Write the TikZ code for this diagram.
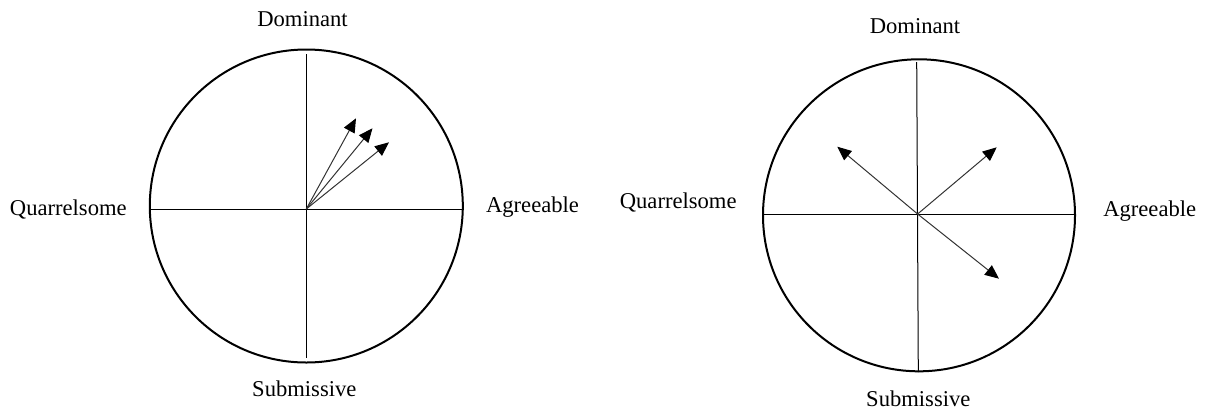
\documentclass[tikz,border=0pt]{standalone}
\usepackage{fontspec}
\setmainfont{Liberation Serif}
\usetikzlibrary{arrows.meta}
\tikzset{
  ring/.style={draw=black, line width=2pt, circle, inner sep=0pt, minimum size=#1},
  axis/.style={draw=black, line width=1pt},
  vec/.style={draw=black!80, line width=1pt, -{Triangle[length=14pt,width=12pt,color=black]}},
  lbl/.style={anchor=base, inner sep=0pt, font=\fontsize{22.6}{27}\selectfont}
}
\begin{document}
\begin{tikzpicture}[x=1pt, y=-1pt]
\useasboundingbox (0,0) rectangle (1206,413);

% ---- left circumplex ----
\node[ring=313pt] (c1) at (306.3,206) {};
\coordinate (o1) at (306.3,209);
\coordinate (n1) at (306.3,54);
\coordinate (s1) at (306.3,358);
\coordinate (w1) at (150.7,209);
\coordinate (e1) at (463,209);
\draw[axis] (n1) -- (s1);
\draw[axis] (w1) -- (e1);
\coordinate (a1) at (356,118.3);
\coordinate (a2) at (372.5,128.3);
\coordinate (a3) at (389,142.3);
\draw[vec] (o1) -- (a1);
\draw[vec] (o1) -- (a2);
\draw[vec] (o1) -- (a3);
\node[lbl] (dom1) at (302.5,26.5) {Dominant};
\node[lbl] (sub1) at (304.3,396.7) {Submissive};
\node[lbl] (qua1) at (68.3,215) {Quarrelsome};
\node[lbl] (agr1) at (532.5,212.7) {Agreeable};

% ---- right circumplex ----
\node[ring=312pt] (c2) at (919,215.3) {};
\coordinate (o2) at (917.6,214);
\coordinate (n2) at (916.7,62);
\coordinate (s2) at (918.3,372);
\coordinate (w2) at (763.5,214);
\coordinate (e2) at (1075,214);
\draw[axis] (n2) -- (s2);
\draw[axis] (w2) -- (e2);
\coordinate (b1) at (837.3,146.7);
\coordinate (b2) at (996.7,147.3);
\coordinate (b3) at (999,278.7);
\draw[vec] (o2) -- (b1);
\draw[vec] (o2) -- (b2);
\draw[vec] (o2) -- (b3);
\node[lbl] (dom2) at (915,33.3) {Dominant};
\node[lbl] (sub2) at (918.3,406.7) {Submissive};
\node[lbl] (qua2) at (678.2,208.3) {Quarrelsome};
\node[lbl] (agr2) at (1149.7,216.7) {Agreeable};
\end{tikzpicture}
\end{document}
